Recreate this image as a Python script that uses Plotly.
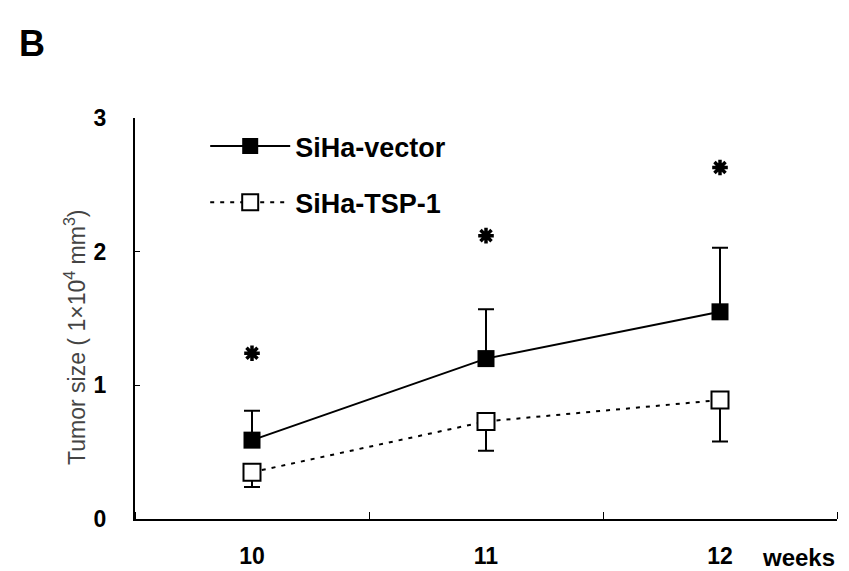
import plotly.graph_objects as go

# --- data ---
weeks = [10, 11, 12]
vector_mean = [0.59, 1.20, 1.55]
vector_err_up = [0.22, 0.37, 0.48]
tsp_mean = [0.35, 0.73, 0.89]
tsp_err_down = [0.11, 0.22, 0.31]
star_y = [1.24, 2.12, 2.63]

font_family = "Liberation Sans, Arial, sans-serif"

fig = go.Figure()

fig.add_trace(go.Scatter(
    x=weeks, y=vector_mean,
    mode="lines+markers",
    name="SiHa-vector",
    legendgroup="a",
    line=dict(color="black", width=2),
    marker=dict(symbol="square", size=17, color="black"),
    error_y=dict(type="data", array=vector_err_up, arrayminus=[0, 0, 0],
                 color="black", thickness=2, width=8),
))

fig.add_trace(go.Scatter(
    x=weeks, y=tsp_mean,
    mode="lines+markers",
    name="SiHa-TSP-1",
    legendgroup="b",
    line=dict(color="black", width=2, dash="4px,6px"),
    marker=dict(symbol="square", size=17, color="white",
                line=dict(color="black", width=2)),
    error_y=dict(type="data", array=[0, 0, 0], arrayminus=tsp_err_down,
                 color="black", thickness=2, width=8),
))

# significance stars
fig.add_trace(go.Scatter(
    x=weeks, y=star_y,
    mode="markers",
    marker=dict(symbol="asterisk-open", size=13, color="black",
                line=dict(color="black", width=3.5)),
    showlegend=False,
    hoverinfo="skip",
))

# page body adds an 8px margin, so the figure is a bit smaller than the window
fig.update_layout(
    width=841, height=563,
    paper_bgcolor="white",
    plot_bgcolor="white",
    margin=dict(l=127, r=12, t=110, b=52),
    font=dict(family=font_family, color="black"),
    legend=dict(
        x=0.1, y=0.99, xanchor="left", yanchor="top",
        font=dict(size=27, weight="bold"),
        itemwidth=80,
        tracegroupgap=18,
        bgcolor="rgba(0,0,0,0)",
    ),
    xaxis=dict(
        range=[9.5, 12.5],
        tickvals=weeks,
        ticktext=[str(w) for w in weeks],
        ticks="",
        tickfont=dict(size=23, weight="bold"),
        showline=True, linecolor="black", linewidth=2,
        showgrid=False, zeroline=False,
        ticklabelstandoff=15,
        automargin=False,
        minor=dict(tickvals=[9.5, 10.5, 11.5, 12.5], ticks="inside",
                   ticklen=7, tickcolor="black", tickwidth=1),
    ),
    yaxis=dict(
        range=[0, 3],
        tickvals=[0, 1, 2, 3],
        ticks="inside", ticklen=5, tickcolor="black",
        tickfont=dict(size=23, weight="bold"),
        showline=True, linecolor="black", linewidth=2,
        showgrid=False, zeroline=False,
        ticklabelstandoff=22,
        automargin=False,
    ),
    annotations=[
        dict(text="Tumor size ( 1×10<sup>4</sup> mm<sup>3</sup>)",
             x=-0.0855, y=0.454, xref="paper", yref="paper",
             xanchor="center", yanchor="middle", textangle=-90,
             showarrow=False, font=dict(size=23, color="#444")),
        dict(text="<b>B</b>", x=-0.168, y=1.186, xref="paper", yref="paper",
             xanchor="left", yanchor="middle", showarrow=False,
             font=dict(size=36)),
        dict(text="<b>weeks</b>", x=1.0, y=-0.095, xref="paper", yref="paper",
             xanchor="right", yanchor="middle", showarrow=False,
             font=dict(size=24)),
    ],
)

fig.write_html("out.html")
